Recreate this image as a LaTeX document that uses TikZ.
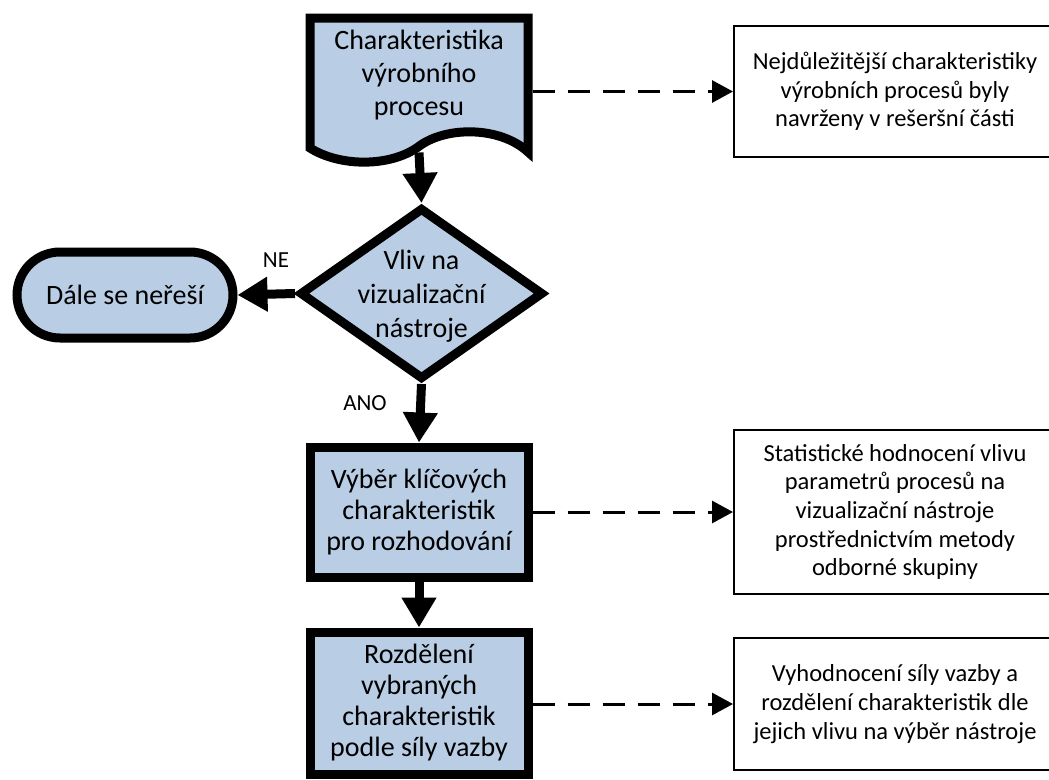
\documentclass[tikz,border=0pt]{standalone}
\usepackage{fontspec}
\setmainfont{Carlito}
\usetikzlibrary{arrows.meta,shapes.geometric,shapes.misc}
\definecolor{boxblue}{HTML}{B9CDE5}
\begin{document}
\begin{tikzpicture}[x=1pt,y=-1pt,
  mainfont/.style={font=\fontsize{28pt}{31pt}\selectfont},
  mainshape/.style={draw, line width=9pt, fill=boxblue, inner sep=0pt, align=center, mainfont},
  procbox/.style={mainshape, rectangle, minimum width=218pt},
  notebox/.style={draw, line width=2pt, rectangle, fill=white, minimum width=322pt,
    inner sep=0pt, align=center, font=\fontsize{24.5pt}{28.7pt}\selectfont},
  flow/.style={line width=9pt, -{Triangle[width=33pt,length=30pt]}},
  note/.style={line width=3pt, dash pattern=on 22pt off 13pt, -{Triangle[width=22pt,length=21pt]}},
  lbl/.style={font=\fontsize{23pt}{27pt}\selectfont}
]
\useasboundingbox (0,0) rectangle (1049,779);

% document shape
\node[draw=none, minimum width=218pt, minimum height=130pt, inner sep=0pt, outer sep=4.5pt] (doc) at (419,83) {};
\draw[line width=9pt, fill=boxblue]
  (310,148) -- (310,18) -- (528,18) -- (528,152)
  .. controls (500,126) and (445,126) .. (418,147)
  .. controls (390,167) and (340,167) .. cycle;
\node[align=center, font=\fontsize{28pt}{33pt}\selectfont] (doctext) at (419,75) {Charakteristika\\výrobního\\procesu};

% decision
\node[draw, line width=9pt, fill=boxblue, diamond, inner sep=0pt, minimum width=244pt, minimum height=172pt] (dia) at (421.5,293.5) {};
\node[align=center, font=\fontsize{28pt}{34pt}\selectfont] (diatext) at (421.5,296) {Vliv na\\vizualizační\\nástroje};

% terminal
\node[mainshape, rounded rectangle, minimum width=216pt, minimum height=86pt] (term) at (125,295) {Dále se neřeší};

% process boxes
\node[procbox, minimum height=130pt] (box1) at (419,512) {Výběr klíčových\\charakteristik\\pro rozhodování};
\node[procbox, minimum height=142pt] (box2) at (419,703) {Rozdělení\\vybraných\\charakteristik\\podle síly vazby};

% note boxes
\node[notebox, minimum height=131pt] (r1) at (895,91.5) {Nejdůležitější charakteristiky\\výrobních procesů byly\\navrženy v rešeršní části};
\node[notebox, minimum height=164pt] (r2) at (895,512) {Statistické hodnocení vlivu\\parametrů procesů na\\vizualizační nástroje\\prostřednictvím metody\\odborné skupiny};
\node[notebox, minimum height=132pt] (r3) at (895,704) {Vyhodnocení síly vazby a\\rozdělení charakteristik dle\\jejich vlivu na výběr nástroje};

% labels
\node[lbl] (ne) at (276,260) {NE};
\node[lbl] (ano) at (365,403) {ANO};

% connectors
\draw[flow] (doc.south) -- (dia.north);
\draw[flow] (dia.west) -- (term.east);
\draw[flow] (dia.south) -- (box1.north);
\draw[flow] (box1.south) -- (box2.north);
\draw[note] (doc.east |- r1.west) -- (r1.west);
\draw[note] (box1.east) -- (r2.west);
\draw[note] (box2.east |- r3.west) -- (r3.west);
\end{tikzpicture}
\end{document}
